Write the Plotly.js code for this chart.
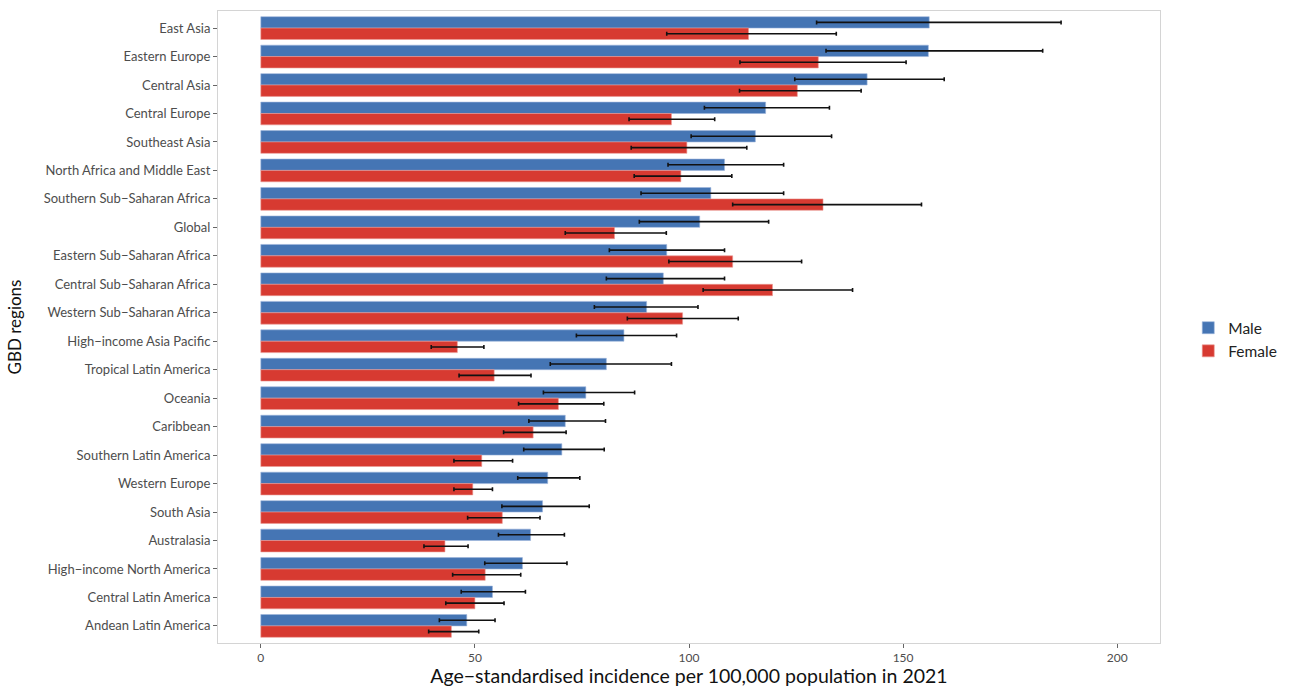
<!DOCTYPE html>
<html>
<head>
<meta charset="utf-8">
<script src="https://cdn.plot.ly/plotly-3.0.1.min.js"></script>
<style>html,body{margin:0;padding:0;background:#fff;}#chart{width:1296px;height:687px;}</style>
</head>
<body>
<div id="chart"></div>
<script>
const regions = ["East Asia","Eastern Europe","Central Asia","Central Europe","Southeast Asia","North Africa and Middle East","Southern Sub\u2212Saharan Africa","Global","Eastern Sub\u2212Saharan Africa","Central Sub\u2212Saharan Africa","Western Sub\u2212Saharan Africa","High\u2212income Asia Pacific","Tropical Latin America","Oceania","Caribbean","Southern Latin America","Western Europe","South Asia","Australasia","High\u2212income North America","Central Latin America","Andean Latin America"];

const maleVal   = [156.1,155.9,141.6,117.9,115.5,108.3,105.1,102.5,94.8,94.0,90.1,84.8,80.7,75.9,71.1,70.3,67.0,65.8,63.0,61.1,54.1,48.1];
const maleLow   = [129.8,132.0,124.7,103.6,100.5,95.1,88.8,88.4,81.4,80.7,77.9,73.7,67.6,66.0,62.6,61.4,60.0,56.3,55.5,52.3,46.8,41.7];
const maleHigh  = [186.9,182.6,159.6,132.8,133.3,122.1,122.1,118.6,108.3,108.3,102.1,97.1,95.9,87.3,80.5,80.2,74.5,76.7,70.9,71.5,61.8,54.7];

const femaleVal  = [113.9,130.2,125.3,95.9,99.5,98.1,131.3,82.6,110.2,119.5,98.5,45.9,54.5,69.5,63.6,51.6,49.5,56.4,43.0,52.4,50.0,44.5];
const femaleLow  = [94.8,111.9,111.8,86.0,86.5,87.2,110.2,71.1,95.3,103.3,85.6,39.8,46.3,60.2,56.7,45.1,45.1,48.3,38.1,44.8,43.2,39.2];
const femaleHigh = [134.4,150.7,140.2,106.0,113.5,110.0,154.3,94.7,126.3,138.2,111.5,52.1,63.1,80.1,71.3,58.8,54.1,65.2,48.4,60.7,56.8,50.9];

const xTicks = [0,50,100,150,200];

function errBar(vals, hi, lo){
  return {type:'data', symmetric:false,
    array: vals.map((v,i)=>hi[i]-v),
    arrayminus: vals.map((v,i)=>v-lo[i]),
    color:'#111', thickness:1.6, width:2};
}

const traces = [
  {type:'bar', orientation:'h', name:'Male', y:regions, x:maleVal,
   marker:{color:'#4575B4', line:{color:'#9db6dc', width:0.6}},
   error_x: errBar(maleVal, maleHigh, maleLow), hoverinfo:'x+y'},
  {type:'bar', orientation:'h', name:'Female', y:regions, x:femaleVal,
   marker:{color:'#D73A31', line:{color:'#eb9a94', width:0.6}},
   error_x: errBar(femaleVal, femaleHigh, femaleLow), hoverinfo:'x+y'}
];

const layout = {
  width:1296, height:687,
  margin:{l:218, r:136, t:11, b:44},
  paper_bgcolor:'#fff', plot_bgcolor:'#fff',
  barmode:'group', bargap:0.2, bargroupgap:0,
  font:{family:'Lato, "Open Sans", sans-serif', color:'#4d4d4d', size:12},
  showlegend:true,
  legend:{x:1.03, xanchor:'left', y:0.48, yanchor:'middle',
    font:{size:15.5, color:'#222'}, traceorder:'normal', itemwidth:30,
    tracegroupgap:4, bgcolor:'rgba(0,0,0,0)'},
  xaxis:{range:[-10,210], tickvals:xTicks, ticktext:xTicks.map(String),
    showgrid:false, zeroline:false, showline:true, mirror:true,
    linecolor:'#d4d4d4', linewidth:1, ticks:'outside', ticklen:4,
    tickcolor:'#666', tickfont:{size:12, color:'#4d4d4d'},
    title:{text:'Age\u2212standardised incidence per 100,000 population in 2021',
      font:{size:19.5, color:'#111'}, standoff:7}},
  yaxis:{type:'category', categoryorder:'array', categoryarray:regions,
    range:[21.6,-0.6], showgrid:false, zeroline:false, showline:true, mirror:true,
    linecolor:'#d4d4d4', linewidth:1, ticks:'outside', ticklen:4,
    tickcolor:'#666', tickfont:{size:13, color:'#4d4d4d'},
    title:{text:'GBD regions', font:{size:17, color:'#111'}, standoff:17}}
};

Plotly.newPlot('chart', traces, layout, {displayModeBar:false, staticPlot:true});
</script>
</body>
</html>
